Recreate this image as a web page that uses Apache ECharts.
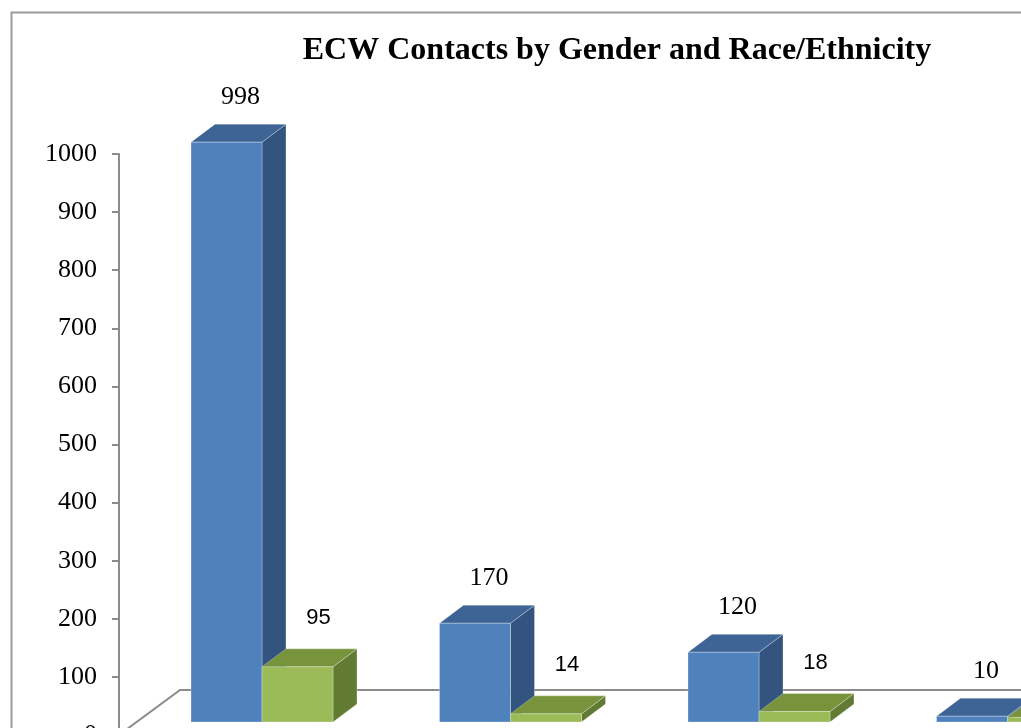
<!DOCTYPE html>
<html>
<head>
<meta charset="utf-8">
<script src="https://cdn.jsdelivr.net/npm/echarts@6/dist/echarts.min.js"></script>
<style>
html,body{margin:0;padding:0;background:#fff;}
#chart{width:1021px;height:728px;}
</style>
</head>
<body>
<div id="chart"></div>
<script>
// ---- data ----
const titleText = 'ECW Contacts by Gender and Race/Ethnicity';
const categories = ['Group 1', 'Group 2', 'Group 3', 'Group 4'];
const seriesNames = ['Series 1', 'Series 2'];
const blueValues = [998, 170, 120, 10];
const greenValues = [95, 14, 18, 8];
const yTicks = { min: 0, max: 1000, interval: 100 };

// ---- style constants ----
const DX = 24, DY = -18;        // 3D depth offset
const LIFT = 13;                // front face base above axis zero
const BAR_RATIO = 0.2857;       // bar width / category band
const AXIS_OFFSET = 18.75;
const FLOOR_DX = 61, FLOOR_DY = -45;
const COLORS = [
  { front: '#4F81BD', top: '#3D6494', side: '#32547F', label: '#000', font: '26px "Liberation Serif", "Times New Roman", serif', ldx: 2, lgap: 27 },
  { front: '#9BBB59', top: '#77933C', side: '#627B32', label: '#000', font: '22px "Liberation Sans", Arial, sans-serif', ldx: 9, lgap: 31 }
];

function boxRenderer(sideIdx) {
  return function (params, api) {
    const c = COLORS[sideIdx];
    const cat = api.value(0), v = api.value(1);
    const base = api.coord([cat, 0]);
    const top = api.coord([cat, v]);
    const band = api.size([1, 0])[0];
    const w = band * BAR_RATIO;
    const x0 = sideIdx === 0 ? base[0] - w : base[0];
    const x1 = x0 + w;
    const yb = base[1] - LIFT;
    const yt = top[1] - LIFT;
    const edge = 'rgba(255,255,255,0.35)';
    return {
      type: 'group',
      children: [
        { type: 'polygon', shape: { points: [[x1, yt], [x1 + DX, yt + DY], [x1 + DX, yb + DY], [x1, yb]] },
          style: { fill: c.side, stroke: edge, lineWidth: 0.8 } },
        { type: 'polygon', shape: { points: [[x0, yt], [x0 + DX, yt + DY], [x1 + DX, yt + DY], [x1, yt]] },
          style: { fill: c.top, stroke: edge, lineWidth: 0.8 } },
        { type: 'rect', shape: { x: x0, y: yt, width: w, height: yb - yt },
          style: { fill: c.front, stroke: edge, lineWidth: 0.8 } },
        { type: 'text', x: (x0 + x1) / 2 + DX / 2 + c.ldx, y: yt + DY - c.lgap,
          style: { text: String(v), font: c.font, fill: c.label, align: 'center', verticalAlign: 'middle' } }
      ]
    };
  };
}

function floorRenderer(params, api) {
  const o = api.coord([0, 0]);
  const band = api.size([1, 0])[0];
  const ax = o[0] - band / 2 - AXIS_OFFSET;
  const w = api.getWidth();
  return {
    type: 'polyline',
    shape: { points: [[ax, o[1]], [ax + FLOOR_DX, o[1] + FLOOR_DY], [w + 10, o[1] + FLOOR_DY]] },
    style: { stroke: '#8C8C8C', lineWidth: 2, fill: null }
  };
}

const chart = echarts.init(document.getElementById('chart'), null, { renderer: 'canvas' });
chart.setOption({
  backgroundColor: '#fff',
  animation: false,
  title: {
    text: titleText,
    left: 612, top: 30, textAlign: 'center',
    textStyle: { fontFamily: '"Liberation Serif", "Times New Roman", serif', fontWeight: 'bold', fontSize: 32, color: '#000' }
  },
  graphic: [{
    type: 'rect', left: 9, top: 10, z: -10,
    shape: { width: 1200, height: 900 },
    style: { fill: null, stroke: '#9A9A9A', lineWidth: 2 }
  }],
  grid: { left: 137.75, right: -110.75, top: 154, bottom: -7, containLabel: false, outerBoundsMode: 'none' },
  xAxis: {
    type: 'category', data: categories,
    axisLine: { show: false }, axisTick: { show: false }, axisLabel: { show: false }, splitLine: { show: false }
  },
  yAxis: {
    type: 'value', min: yTicks.min, max: yTicks.max, interval: yTicks.interval,
    offset: AXIS_OFFSET,
    axisLine: { show: true, lineStyle: { color: '#8C8C8C', width: 2 } },
    axisTick: { show: true, length: 7, lineStyle: { color: '#8C8C8C', width: 2 } },
    axisLabel: { margin: 22, color: '#000', fontSize: 26, fontFamily: '"Liberation Serif", "Times New Roman", serif',
      formatter: function (v) { return String(v); } },
    splitLine: { show: false }
  },
  series: [
    { type: 'custom', name: 'floor', renderItem: floorRenderer, data: [[0, 0]], encode: { x: 0, y: 1 }, z: 1, silent: true },
    { type: 'custom', name: seriesNames[0], renderItem: boxRenderer(0), data: blueValues.map((v, i) => [i, v]), encode: { x: 0, y: 1 }, z: 2 },
    { type: 'custom', name: seriesNames[1], renderItem: boxRenderer(1), data: greenValues.map((v, i) => [i, v]), encode: { x: 0, y: 1 }, z: 3 }
  ]
});
</script>
</body>
</html>
